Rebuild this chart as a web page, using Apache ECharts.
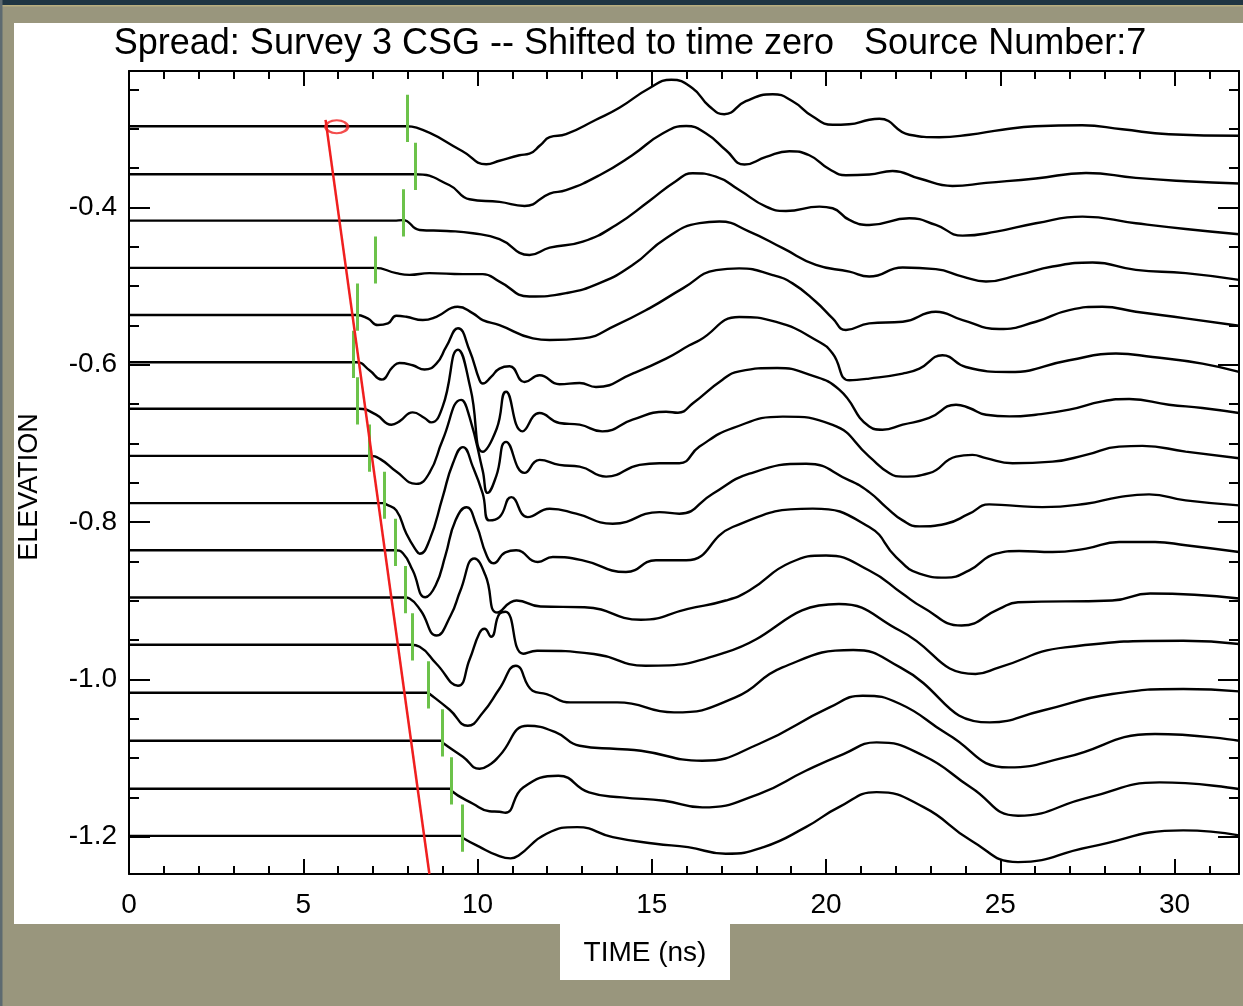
<!DOCTYPE html>
<html><head><meta charset="utf-8">
<script src="https://cdn.jsdelivr.net/npm/echarts@6/dist/echarts.min.js"></script>
<style>html,body{margin:0;padding:0;background:#99967d;}#c{width:1243px;height:1006px;}</style>
</head><body><div id="c"></div>
<script>
// ---------------- data ----------------
const TITLE = 'Spread: Survey 3 CSG -- Shifted to time zero   Source Number:7';
const X_NAME = 'TIME (ns)';
const Y_NAME = 'ELEVATION';
const X_RANGE = [0, 31.85];
const Y_RANGE = [-1.2474, -0.2268];
const xMajorTicks = [0, 5, 10, 15, 20, 25, 30];
const xMinorTicks = [1,2,3,4,6,7,8,9,11,12,13,14,16,17,18,19,21,22,23,24,26,27,28,29,31];
const yMajorTicks = [-1.2, -1.0, -0.8, -0.6, -0.4];
const yMinorTicks = [-1.15,-1.1,-1.05,-0.95,-0.9,-0.85,-0.75,-0.7,-0.65,-0.55,-0.5,-0.45,-0.35,-0.3,-0.25];

// trace zero-line elevations (one per receiver)
const traceElev = [-0.297,-0.358,-0.417,-0.477,-0.537,-0.597,-0.656,-0.716,-0.776,-0.836,-0.896,-0.956,-1.017,-1.078,-1.139,-1.199];
// first-break picks (ns), one per trace
const picks = [7.99,8.21,7.88,7.07,6.56,6.43,6.54,6.90,7.32,7.65,7.94,8.13,8.60,8.99,9.25,9.55];
// fitted first-arrival line
const redLine = [[5.64,-0.289],[8.62,-1.2474]];
const redMark = [[5.96,-0.2976]];

// trace amplitudes [time ns, amplitude]
const tr1 = [[0,0],[7.97,0],[8.25,-1.5],[9.57,-25],[10.25,-38],[10.63,-34.5],[11.2,-29],[11.49,-27.5],[11.8,-19],[12.07,-11],[12.54,-8],[13.4,6.5],[14.07,18.5],[14.93,38],[15.56,46.5],[16.17,38],[16.65,20],[17.08,12],[17.7,25],[18.47,32],[19.04,25],[19.61,10],[20.19,1.5],[20.66,2],[21.24,6.5],[21.53,7.5],[22.39,-8.5],[23.25,-11],[24.11,-8.5],[25.06,-3.5],[26.0,0],[27.35,1],[28.5,-3],[29.84,-8],[31.85,-9.5]];
const tr2 = [[0,0],[8.2,0],[9.2,-11],[9.77,-25],[10.63,-27.7],[11.35,-31.7],[12.07,-19.3],[12.54,-16],[13.5,-1],[14.44,19],[15.31,40.7],[15.99,48.3],[16.56,40.7],[17.13,24],[17.66,9.7],[18.28,17.3],[18.95,23],[19.52,19],[20.1,5],[20.57,-1],[21.24,-0.3],[21.91,3.3],[22.68,-4.3],[23.63,-11.7],[24.59,-8.7],[26.02,-4.3],[27.46,1.3],[28.89,-3.7],[30.32,-7],[31.85,-9.3]];
const tr3 = [[0,0],[7.6,0],[7.86,0.5],[8.34,-9.3],[9.12,-10.3],[9.87,-12.6],[10.63,-18.5],[11.49,-34.3],[12.07,-27],[13.02,-21],[13.98,-4.3],[14.93,19.7],[15.7,39.7],[16.17,47.4],[16.84,44],[17.51,30.7],[18.28,14],[18.85,9.7],[19.81,14],[20.19,12.4],[20.67,0.7],[21.24,-4.3],[22.39,2.4],[23.15,-4.3],[23.92,-15],[24.88,-11],[26.02,-2.6],[27.36,4],[28.89,-2.6],[30.32,-8.3],[31.85,-13.6]];
const tr4 = [[0,0],[7.05,0],[7.67,-5.3],[8.05,-7],[8.62,-5.3],[9.58,-6.3],[10.15,-6.3],[10.63,-13.7],[11.49,-28.7],[12.54,-25.3],[13.5,-15.3],[14.46,3],[15.41,29.7],[16.37,44.7],[16.94,46.3],[17.8,36.3],[18.76,19.7],[19.71,3],[20.67,-3.7],[21.24,-8.7],[22.2,0.3],[23.15,-1.3],[23.92,-8.7],[24.59,-13.7],[25.54,-7],[26.5,1.3],[27.65,5.3],[28.89,-2],[30.32,-5.3],[31.85,-12]];
const tr5 = [[0,0],[6.52,0],[6.85,-3.3],[7.14,-10],[7.43,-8.3],[7.67,-0.7],[7.96,-1.7],[8.43,-5],[8.82,-1.7],[9.43,8.3],[9.87,1.7],[10.15,-5],[10.63,-10],[11.59,-23.3],[12.07,-25],[13.02,-23.3],[13.98,-10],[14.93,6.7],[15.89,26.7],[16.85,45],[17.51,46.7],[18.47,40],[19.04,31.7],[19.71,13.3],[20.19,-3.3],[20.57,-15],[21.24,-8.3],[22.2,-6.7],[23.15,3.3],[23.92,-5],[24.97,-14],[26.02,-6.7],[26.98,5],[27.93,8.3],[28.89,3.3],[30.32,-3.3],[31.85,-10.7]];
const tr6 = [[0,0],[6.52,0],[6.9,-8],[7.24,-17.3],[7.57,-4.7],[7.76,-0.7],[8.14,-3],[8.48,-7.3],[8.82,-1.3],[9.1,15.3],[9.44,34],[9.77,12],[10.06,-18],[10.15,-21.3],[10.39,-14.7],[10.63,-6.3],[10.92,-4],[11.35,-19.7],[11.78,-13],[12.35,-22],[12.93,-20.7],[13.4,-24.7],[14.45,-11.3],[15.41,3.7],[16.08,17],[16.37,22],[17.51,45.3],[18.57,40.3],[19.81,20.3],[20.19,8.7],[20.67,-18],[21.24,-16.3],[22.2,-11.3],[22.68,-6.3],[23.34,7],[24.01,-4.7],[25.26,-9.7],[26.98,2],[28.32,8.7],[29.37,5.3],[30.8,-1.3],[31.85,-9.7]];
const tr7 = [[0,0],[6.6,0],[7.09,-6],[7.53,-16],[7.76,-12.7],[8.14,-3.7],[8.48,-9.3],[8.67,-13.7],[9.0,2],[9.44,59],[9.8,20],[10.15,-43],[10.55,-20],[10.82,17],[11.29,-22.7],[11.78,-4.3],[12.35,-14.3],[12.93,-16],[13.58,-22.7],[14.45,-11],[15.41,-3],[15.75,-4],[16.19,5.7],[17.03,29],[17.51,37.3],[18.6,40.7],[19.52,34],[20.38,19],[21.24,-17.7],[21.62,-21],[22.2,-16],[22.96,-9.3],[23.73,4],[24.11,0.7],[24.59,-6],[25.26,-7.7],[26.02,-6],[26.98,-1],[27.93,7.3],[28.7,9.7],[29.84,4],[30.8,0.7],[31.85,-4.3]];
const tr8 = [[0,0],[6.9,0],[7.2,-3],[7.67,-15.7],[8.24,-28],[8.62,-17],[9.0,16],[9.53,56],[9.77,39],[10.15,-15],[10.29,-37],[10.54,-20],[10.82,14],[11.35,-17],[11.78,-4],[12.35,-9],[12.93,-10.7],[13.69,-20.7],[14.65,-9],[15.22,-7.3],[15.79,-7.3],[16.37,9.3],[17.32,27.7],[18.76,39.3],[20.19,31],[21.24,-0.7],[21.82,-17.3],[22.2,-20.7],[22.96,-17.3],[23.73,-0.7],[24.2,1],[24.59,-2.3],[25.35,-7.3],[26.5,-5.7],[27.46,1],[28.41,9.3],[29.08,10],[30.32,4.3],[31.85,-2.3]];
const tr9 = [[0,0],[7.3,0],[7.38,-1.3],[7.67,-7.3],[7.96,-30.6],[8.24,-47.3],[8.34,-50.6],[8.62,-37.3],[9.0,6],[9.29,39.4],[9.58,56],[9.87,36],[10.15,9.4],[10.34,-17.3],[10.63,-14],[10.97,6],[11.44,-14],[12.07,-5.6],[12.83,-10.6],[13.88,-20.6],[15.22,-9],[15.79,-10.6],[16.75,9.4],[17.8,29.4],[19.43,39.4],[20.67,22.7],[21.24,11],[21.72,-4],[22.2,-17.3],[22.68,-23.3],[23.44,-20.6],[24.11,-10.6],[24.68,-1.3],[25.26,-2.3],[26.21,-4],[27.46,-0.6],[28.41,6],[29.27,8.7],[30.32,2.7],[31.85,-2.3]];
const tr10 = [[0,0],[7.63,0],[7.86,-3],[8.14,-20],[8.5,-47],[8.8,-35],[9.08,-5],[9.37,30],[9.68,43],[9.97,25],[10.26,-5],[10.46,-13],[10.8,-2],[11.11,0],[11.73,-11.7],[12.16,-6.7],[13.02,-10],[14.26,-21.7],[15.12,-10],[15.99,-10],[17.32,23.3],[19.62,41.7],[21.24,23.3],[22.01,-6.7],[22.68,-23.3],[23.44,-27.3],[24.11,-20],[24.88,-3.3],[25.54,-0.7],[26.5,-1.7],[27.46,1.7],[28.41,8.3],[29.44,8.3],[30.32,5],[31.85,-1.7]];
const tr11 = [[0,0],[7.92,0],[8.05,-1],[8.37,-13],[8.82,-38],[9.23,-18],[9.51,7],[9.91,39],[10.23,22],[10.57,-15],[11.12,-3],[11.81,-9],[13.07,-9.7],[14.69,-22.3],[16.04,-11.3],[17.12,-3],[17.8,7],[18.98,35],[20.0,42],[21.24,27],[22.2,3.7],[22.77,-9.7],[23.89,-28],[24.97,-11.3],[25.51,-4.7],[28.21,-3],[29.3,4],[31.85,-1]];
const tr12 = [[0,0],[8.09,0],[8.34,-2],[8.82,-19],[9.44,-41],[9.77,-15],[10.06,12],[10.2,16],[10.39,8],[10.63,31],[10.8,33],[11.31,-9],[11.71,-6],[13.34,-9.3],[14.82,-21],[17.12,-7.7],[20.37,40.7],[22.13,14],[24.29,-29.3],[24.97,-22.7],[26.86,-2.7],[30.25,4],[31.85,0.7]];
const tr13 = [[0,0],[8.57,0],[8.62,-1],[9.2,-17],[9.72,-33],[10.15,-20],[10.63,4],[11.1,27],[11.58,2],[11.98,-1.3],[12.66,-9.7],[14.01,-9.7],[15.64,-19.7],[17.4,-4.7],[18.75,25.3],[20.78,42.7],[22.13,25.3],[24.7,-29.7],[26.19,-18],[28.21,-1.3],[30.25,3.7],[31.85,1.3]];
const tr14 = [[0,0],[8.95,0],[9.0,-2],[9.58,-16],[10.06,-28],[10.39,-23],[10.63,-15],[11.44,15],[12.25,8.3],[12.93,-5],[14.01,-8.3],[14.69,-10],[16.45,-20],[18.07,-3.3],[20.1,33.3],[21.05,45],[22.13,36.7],[23.48,6.7],[25.24,-26.7],[26.86,-16.7],[29.44,6.7],[31.85,0]];
const tr15 = [[0,0],[9.23,0],[9.25,-2],[9.87,-15],[10.34,-22.5],[10.63,-23],[10.8,-24],[11.31,1.3],[12.32,13],[13.2,-3.7],[14.15,-8.7],[15.36,-12],[16.45,-18.7],[18.07,-5.3],[19.42,18],[20.5,34.7],[21.45,46.3],[22.8,33],[24.16,1.3],[25.51,-27],[27.54,-8.7],[29.57,6.3],[31.85,-0.3]];
const tr16 = [[0,0],[9.52,0],[9.58,-2],[10.06,-11],[10.54,-19],[10.95,-22.5],[11.18,-19.5],[11.98,2.2],[12.86,8.8],[13.88,-1.2],[15.1,-7.8],[16.04,-11.2],[17.12,-17.8],[18.21,-11.2],[19.42,8.8],[20.37,28.8],[21.45,43.8],[22.8,28.8],[24.16,-4.5],[25.51,-26.2],[27.54,-11.2],[30.25,5.5],[31.85,0.5]];
const traces = [tr1,tr2,tr3,tr4,tr5,tr6,tr7,tr8,tr9,tr10,tr11,tr12,tr13,tr14,tr15,tr16];

// display constants
const TRACE_GAIN = 0.001271;   // elevation units per amplitude unit
const PICK_BELOW = 0.02, PICK_ABOVE = 0.04;

// ---------------- chart ----------------
const FONT = '"Liberation Sans", Arial, sans-serif';
const chart = echarts.init(document.getElementById('c'), null, {renderer:'canvas', width:1243, height:1006});

const series = traces.map((tr, i) => ({
  type: 'line',
  data: tr.map(p => [p[0], traceElev[i] + p[1] * TRACE_GAIN]),
  symbol: 'none', showSymbol: false,
  smooth: 0.5,
  lineStyle: {color: '#000', width: 2.4, join: 'round'},
  silent: true, clip: true, z: 3
}));
series.push({
  type: 'lines', coordinateSystem: 'cartesian2d',
  data: picks.map((t, i) => ({coords: [[t, traceElev[i] - PICK_BELOW], [t, traceElev[i] + PICK_ABOVE]]})),
  lineStyle: {color: '#6cc24a', width: 3, opacity: 1},
  silent: true, z: 4
});
series.push({
  type: 'line', data: redLine, symbol: 'none',
  lineStyle: {color: '#f01f1f', width: 2.5}, silent: true, clip: true, z: 5
});
series.push({
  type: 'scatter', data: redMark, symbol: 'circle', symbolSize: [22, 13],
  itemStyle: {color: 'rgba(0,0,0,0)', borderColor: '#f01f1f', borderWidth: 2.5},
  silent: true, z: 6
});

function xAx(pos, ticks, len, showLine, showLabel) {
  return {
    type: 'value', position: pos, min: X_RANGE[0], max: X_RANGE[1],
    axisLine: {show: showLine, onZero: false, lineStyle: {color: '#000', width: 2}},
    axisTick: {show: true, inside: true, length: len, customValues: ticks, lineStyle: {color: '#000', width: 2}},
    axisLabel: {show: showLabel, customValues: ticks, color: '#000', fontSize: 28, fontFamily: FONT, margin: 17},
    splitLine: {show: false}
  };
}
function yAx(pos, ticks, len, showLine, showLabel) {
  return {
    type: 'value', position: pos, min: Y_RANGE[0], max: Y_RANGE[1],
    axisLine: {show: showLine, onZero: false, lineStyle: {color: '#000', width: 2}},
    axisTick: {show: true, inside: true, length: len, customValues: ticks, lineStyle: {color: '#000', width: 2}},
    axisLabel: {show: showLabel, customValues: ticks, color: '#000', fontSize: 28, fontFamily: FONT, margin: 12,
      formatter: v => v.toFixed(1)},
    splitLine: {show: false}
  };
}

chart.setOption({
  animation: false,
  backgroundColor: '#99967d',
  grid: {left: 129, top: 71, width: 1110, height: 803, containLabel: false},
  xAxis: [
    xAx('bottom', xMajorTicks, 15, true, true),
    xAx('bottom', xMinorTicks, 8, false, false),
    xAx('top', xMajorTicks, 15, true, false),
    xAx('top', xMinorTicks, 8, false, false)
  ],
  yAxis: [
    yAx('left', yMajorTicks, 21, true, true),
    yAx('left', yMinorTicks, 10, false, false),
    yAx('right', yMajorTicks, 21, true, false),
    yAx('right', yMinorTicks, 10, false, false)
  ],
  graphic: [
    {type: 'rect', z: -10, shape: {x: 0, y: 0, width: 1243, height: 5}, style: {fill: '#1f3543'}},
    {type: 'rect', z: -10, shape: {x: 0, y: 5, width: 1243, height: 1.5}, style: {fill: '#b8ae80'}},
    {type: 'rect', z: -10, shape: {x: 0, y: 0, width: 2.5, height: 1006}, style: {fill: '#5d6a70'}},
    {type: 'rect', z: -10, shape: {x: 14, y: 23, width: 1229, height: 901}, style: {fill: '#ffffff'}},
    {type: 'rect', z: -10, shape: {x: 560, y: 924, width: 170, height: 56}, style: {fill: '#ffffff'}},
    {type: 'text', z: 10, x: 630, y: 44, style: {text: TITLE, fill: '#000', font: '36px ' + FONT, textAlign: 'center', textVerticalAlign: 'middle'}},
    {type: 'text', z: 10, x: 30, y: 487, rotation: Math.PI / 2, style: {text: Y_NAME, fill: '#000', font: '27px ' + FONT, textAlign: 'center', textVerticalAlign: 'middle'}},
    {type: 'text', z: 10, x: 645, y: 953, style: {text: X_NAME, fill: '#000', font: '28px ' + FONT, textAlign: 'center', textVerticalAlign: 'middle'}}
  ],
  series: series
});
</script>
</body></html>
